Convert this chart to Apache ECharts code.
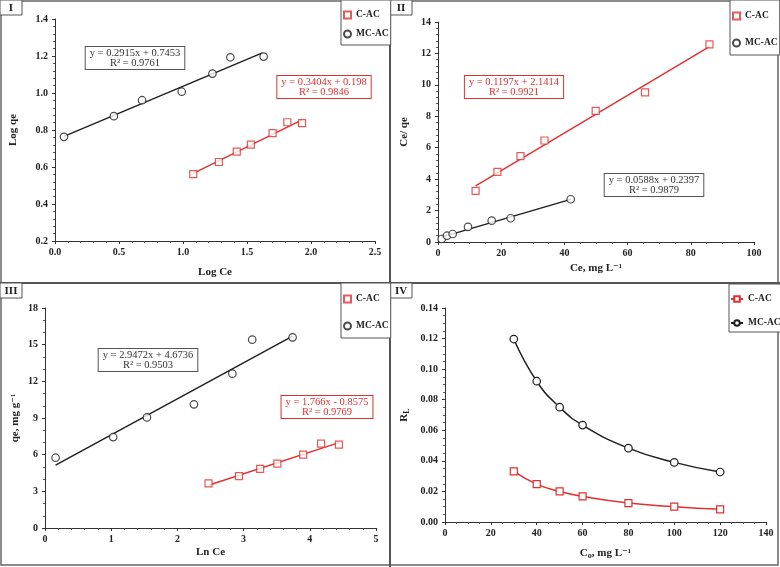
<!DOCTYPE html>
<html>
<head>
<meta charset="utf-8">
<script src="https://cdn.jsdelivr.net/npm/echarts@6/dist/echarts.min.js"></script>
<style>
html,body{margin:0;padding:0;background:#fff;}
#c{width:780px;height:567px;}
</style>
</head>
<body>
<div id="c"></div>
<script>
// ---------- DATA ----------
// Panel I : Freundlich (Log Ce vs Log qe)
var p1_mc = [[0.07,0.763],[0.46,0.875],[0.68,0.961],[0.99,1.007],[1.23,1.105],[1.37,1.193],[1.63,1.197]];
var p1_c  = [[1.08,0.562],[1.28,0.627],[1.42,0.683],[1.53,0.721],[1.70,0.783],[1.815,0.842],[1.93,0.837]];
var p1_mc_fit = [[0.07,0.766],[1.62,1.217]];
var p1_c_fit  = [[1.08,0.566],[1.93,0.855]];
// Panel II : Langmuir (Ce vs Ce/qe)
var p2_c  = [[11.9,3.25],[18.8,4.46],[26.1,5.46],[33.7,6.46],[49.9,8.35],[65.5,9.52],[85.9,12.58]];
var p2_mc = [[1.16,0.19],[2.85,0.40],[4.65,0.51],[9.5,0.96],[17.0,1.36],[23.0,1.51],[42.0,2.72]];
var p2_c_fit  = [[11.9,3.57],[85.9,12.43]];
var p2_mc_fit = [[1.16,0.31],[42.0,2.71]];
// Panel III : Temkin (Ln Ce vs qe)
var p3_mc = [[0.16,5.75],[1.03,7.44],[1.54,9.05],[2.25,10.12],[2.83,12.63],[3.13,15.41],[3.74,15.60]];
var p3_c  = [[2.47,3.65],[2.93,4.25],[3.25,4.83],[3.51,5.26],[3.90,6.00],[4.17,6.90],[4.44,6.82]];
var p3_mc_fit = [[0.16,5.14],[3.74,15.70]];
var p3_c_fit  = [[2.47,3.50],[4.44,6.98]];
// Panel IV : separation factor RL vs Co
var p4_co = [30,40,50,60,80,100,120];
var p4_mc = [0.1197,0.0921,0.0751,0.0634,0.0483,0.0390,0.0327];
var p4_c  = [0.0331,0.0248,0.0200,0.0168,0.0124,0.0100,0.0083];
// Equation texts
var eq = {
  p1_mc: 'y = 0.2915x + 0.7453\nR\u00b2 = 0.9761',
  p1_c:  'y = 0.3404x + 0.198\nR\u00b2 = 0.9846',
  p2_c:  'y = 0.1197x + 2.1414\nR\u00b2 = 0.9921',
  p2_mc: 'y = 0.0588x + 0.2397\nR\u00b2 = 0.9879',
  p3_mc: 'y = 2.9472x + 4.6736\nR\u00b2 = 0.9503',
  p3_c:  'y = 1.766x - 0.8575\nR\u00b2 = 0.9769'
};
var panelLabels = ['I','II','III','IV'];

// ---------- STYLE ----------
var RED = '#e0302f', BLK = '#1e1e1e';
var SERIF = '"Liberation Serif","DejaVu Serif",serif';
var labelFont = {fontFamily:SERIF, fontWeight:'bold', fontSize:10, color:'#222'};
var nameFont = {fontFamily:SERIF, fontWeight:'bold', fontSize:11, color:'#222'};

function axis(gi, o){
  return Object.assign({
    type:'value', gridIndex:gi, splitLine:{show:false},
    axisLine:{show:true, onZero:false, lineStyle:{color:'#333', width:1}},
    axisTick:{show:true, length:3, lineStyle:{color:'#333'}},
    minorTick:{show:true, splitNumber:5, length:2, lineStyle:{color:'#555'}},
    axisLabel:Object.assign({margin:6}, labelFont),
    nameLocation:'middle', nameTextStyle:nameFont
  }, o);
}
function fmt(d){ return function(v){ return v.toFixed(d); }; }

function scatter(name, data, sym, color, xi){
  return {name:name, type:'scatter', xAxisIndex:xi, yAxisIndex:xi, data:data, symbol:sym,
    symbolSize: sym==='rect'?7:7.5, z:3,
    itemStyle:{color:'#fff', borderColor:color, borderWidth:1.2}};
}
function fit(name, data, color, xi){
  return {name:name, type:'line', xAxisIndex:xi, yAxisIndex:xi, data:data, symbol:'none', z:2, silent:true,
    lineStyle:{color:color, width:1.4}};
}
function pairs(xs, ys){ return xs.map(function(x,i){ return [x, ys[i]]; }); }

function legend(names, left, top, gap, pad, iw){
  return {orient:'vertical', left:left, top:top, data:names, itemGap:gap, padding:pad,
    itemWidth:iw, itemHeight:7, borderColor:'#555', borderWidth:1, backgroundColor:'#fff',
    selectedMode:false, textStyle:{fontFamily:SERIF, fontWeight:'bold', fontSize:9.5, color:'#222'},
    formatter:function(n){ return n.split('|')[1]; }};
}

function eqBox(text, cx, top, color, border){
  return {type:'text', x:cx, y:top, z:10,
    style:{text:text, fill:color, font:'10.5px '+SERIF, align:'center', verticalAlign:'top', lineHeight:10,
      backgroundColor:'#fff', borderColor:border, borderWidth:1, padding:[1,4,1,4]}};
}
function panelTag(t, x, y){
  return {type:'group', x:x, y:y, z:10, children:[
    {type:'rect', shape:{x:0,y:0,width:22,height:15}, style:{fill:'#fff', stroke:'#555', lineWidth:1}},
    {type:'text', style:{text:t, x:11, y:8, align:'center', verticalAlign:'middle', font:'bold 11px '+SERIF, fill:'#222'}}
  ]};
}

var richSub = {fontFamily:SERIF, fontWeight:'bold', fontSize:8, color:'#222'};

var option = {
  animation:false,
  backgroundColor:'#fff',
  grid:[
    {left:55, top:19, width:320, height:222},
    {left:438, top:22, width:316, height:220},
    {left:45, top:308, width:331, height:220},
    {left:445, top:308, width:321, height:214}
  ],
  xAxis:[
    axis(0,{min:0,max:2.5,interval:0.5,name:'Log Ce',nameGap:26, axisLabel:Object.assign({margin:6,formatter:fmt(1)},labelFont)}),
    axis(1,{min:0,max:100,interval:20,name:'Ce, mg L\u207b\u00b9',nameGap:21, minorTick:{show:true,splitNumber:4,length:2,lineStyle:{color:'#555'}}}),
    axis(2,{min:0,max:5,interval:1,name:'Ln Ce',nameGap:19}),
    axis(3,{min:0,max:140,interval:20,name:'{b|C}{s|o}{b|, mg L\u207b\u00b9}',nameGap:24,
      minorTick:{show:true,splitNumber:4,length:2,lineStyle:{color:'#555'}},
      nameTextStyle:Object.assign({rich:{b:nameFont, s:Object.assign({padding:[6,0,0,0]}, richSub)}}, nameFont)})
  ],
  yAxis:[
    axis(0,{min:0.2,max:1.4,interval:0.2,name:'Log qe',nameGap:36, axisLabel:Object.assign({margin:7,formatter:fmt(1)},labelFont)}),
    axis(1,{min:0,max:14,interval:2,name:'Ce/ qe',nameGap:28, axisLabel:Object.assign({margin:7},labelFont)}),
    axis(2,{min:0,max:18,interval:3,name:'qe, mg g\u207b\u00b9',nameGap:24, minorTick:{show:true,splitNumber:3,length:2,lineStyle:{color:'#555'}}, axisLabel:Object.assign({margin:7},labelFont)}),
    axis(3,{min:0,max:0.14,interval:0.02,name:'{b|R}{s|L}',nameGap:34,
      minorTick:{show:true,splitNumber:4,length:2,lineStyle:{color:'#555'}},
      axisLabel:Object.assign({margin:7,formatter:fmt(2)},labelFont),
      nameTextStyle:Object.assign({rich:{b:nameFont, s:Object.assign({padding:[6,0,0,0]}, richSub)}}, nameFont)})
  ],
  legend:[
    legend(['I|C-AC','I|MC-AC'], 341, 0, 9, [10,2,6,2], 7),
    legend(['II|C-AC','II|MC-AC'], 730, 0, 17, [11,2,7,2], 7),
    legend(['III|C-AC','III|MC-AC'], 341, 283, 17, [11,2,7,2], 7),
    legend(['IV|C-AC','IV|MC-AC'], 729, 284, 14, [10,2,4,1], 12)
  ],
  series:[
    fit('I|fitMC', p1_mc_fit, BLK, 0),
    fit('I|fitC', p1_c_fit, RED, 0),
    scatter('I|C-AC', p1_c, 'rect', RED, 0),
    scatter('I|MC-AC', p1_mc, 'circle', BLK, 0),

    fit('II|fitC', p2_c_fit, RED, 1),
    fit('II|fitMC', p2_mc_fit, BLK, 1),
    scatter('II|C-AC', p2_c, 'rect', RED, 1),
    scatter('II|MC-AC', p2_mc, 'circle', BLK, 1),

    fit('III|fitMC', p3_mc_fit, BLK, 2),
    fit('III|fitC', p3_c_fit, RED, 2),
    scatter('III|C-AC', p3_c, 'rect', RED, 2),
    scatter('III|MC-AC', p3_mc, 'circle', BLK, 2),

    {name:'IV|C-AC', type:'line', xAxisIndex:3, yAxisIndex:3, data:pairs(p4_co,p4_c), smooth:true,
      symbol:'rect', symbolSize:7, showAllSymbol:true,
      lineStyle:{color:RED,width:1.5}, itemStyle:{color:'#fff',borderColor:RED,borderWidth:1.2}},
    {name:'IV|MC-AC', type:'line', xAxisIndex:3, yAxisIndex:3, data:pairs(p4_co,p4_mc), smooth:true,
      symbol:'circle', symbolSize:7.5, showAllSymbol:true,
      lineStyle:{color:BLK,width:1.5}, itemStyle:{color:'#fff',borderColor:BLK,borderWidth:1.2}}
  ],
  graphic:[
    {type:'rect', z:-1, shape:{x:1,y:1,width:777,height:564}, style:{fill:'none', stroke:'#666', lineWidth:1.5}},
    {type:'line', z:-1, shape:{x1:390,y1:0,x2:390,y2:567}, style:{stroke:'#555', lineWidth:2}},
    {type:'line', z:-1, shape:{x1:0,y1:283,x2:780,y2:283}, style:{stroke:'#555', lineWidth:2}},
    panelTag(panelLabels[0], 0, 0),
    panelTag(panelLabels[1], 390, 0),
    panelTag(panelLabels[2], 0, 283),
    panelTag(panelLabels[3], 390, 283),
    eqBox(eq.p1_mc, 135, 47, '#333', '#555'),
    eqBox(eq.p1_c, 324, 76, RED, RED),
    eqBox(eq.p2_c, 514, 76, RED, RED),
    eqBox(eq.p2_mc, 654, 174, '#333', '#555'),
    eqBox(eq.p3_mc, 148, 349, '#333', '#555'),
    eqBox(eq.p3_c, 327, 396, RED, RED)
  ]
};
var chart = echarts.init(document.getElementById('c'), null, {renderer:'canvas'});
chart.setOption(option);
</script>
</body>
</html>
